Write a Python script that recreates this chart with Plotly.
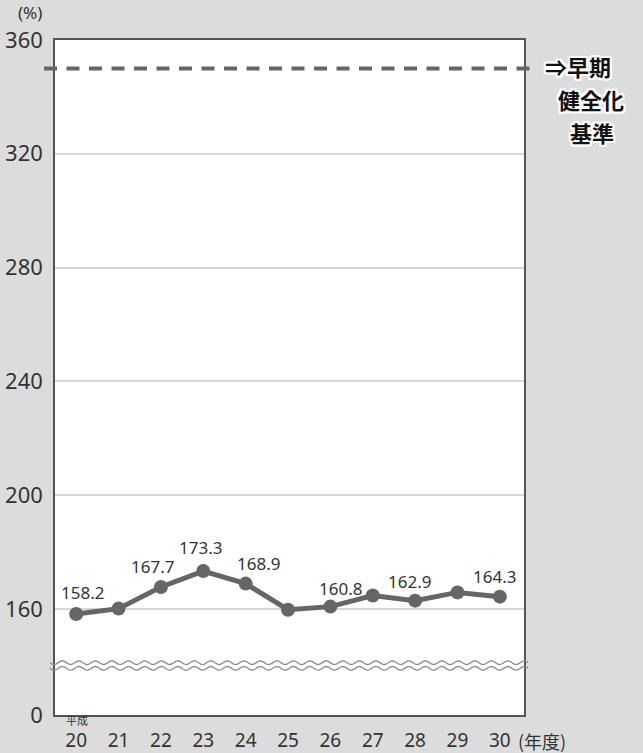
import numpy as np
import plotly.graph_objects as go

# ---- data ----
years = [20, 21, 22, 23, 24, 25, 26, 27, 28, 29, 30]
year_labels = ["20", "21", "22", "23", "24", "25", "26", "27", "28", "29", "30"]
ratio = [158.2, 160.1, 167.7, 173.3, 168.9, 159.7, 160.8, 164.7, 162.9, 165.8, 164.3]
labelled = [True, False, True, True, True, False, True, False, True, False, True]
threshold = 350
threshold_label = ["⇒早期", "健全化", "基準"]
ytick_vals = [122.7, 160, 200, 240, 280, 320, 360]
ytick_text = ["0", "160", "200", "240", "280", "320", "360"]

# ---- layout geometry (pixels) ----
W, H = 643, 753
L, R, T, B = 55, 524, 40, 715
PW, PH = R - L, B - T
Y0, Y1 = ytick_vals[0], ytick_vals[-1]

def px_x(p):
    return (p - L) / PW

def px_y(p):
    return (B - p) / PH

def val_y(v):
    return (v - Y0) / (Y1 - Y0)

label_dx = [6, 0, -8, -3, 13, 0, 10, 0, -6, 0, -5]
label_dy = [22, 0, 21, 24, 20, 0, 18, 0, 19, 0, 20]

FONT = "Noto Sans, Noto Sans CJK JP, sans-serif"
CJK = "Noto Sans CJK JP, sans-serif"
DARK = "#333333"
LINE = "#666666"

fig = go.Figure()
fig.add_trace(go.Scatter(
    x=years, y=ratio, mode="lines+markers",
    line=dict(color=LINE, width=5),
    marker=dict(color=LINE, size=14),
    hoverinfo="skip", showlegend=False, cliponaxis=False,
))

annotations = []
for x, v, show, dx, dy in zip(years, ratio, labelled, label_dx, label_dy):
    if show:
        annotations.append(dict(
            x=x, y=v, xref="x", yref="y", text=f"{v:.1f}", showarrow=False,
            xshift=dx, yshift=dy, yanchor="middle",
            font=dict(family=FONT, size=17, color=DARK)))

# (%) label
annotations.append(dict(x=px_x(30), y=px_y(13), xref="paper", yref="paper",
                        text="(%)", showarrow=False, xanchor="center", yanchor="middle",
                        font=dict(family=FONT, size=17, color=DARK)))
# 平成
annotations.append(dict(x=px_x(77), y=px_y(720), xref="paper", yref="paper",
                        text="平成", showarrow=False, xanchor="center", yanchor="middle",
                        font=dict(family=CJK, size=11, color=DARK)))
# (年度)
annotations.append(dict(x=px_x(542), y=px_y(741), xref="paper", yref="paper",
                        text="(年度)", showarrow=False, xanchor="center", yanchor="middle",
                        font=dict(family=CJK, size=18, color=DARK)))

# threshold label
shadow = ("2px 0 0 #fff, -2px 0 0 #fff, 0 2px 0 #fff, 0 -2px 0 #fff, "
          "2px 2px 0 #fff, -2px -2px 0 #fff, 2px -2px 0 #fff, -2px 2px 0 #fff")
for txt, cx, cy in zip(threshold_label, [578, 591, 592], [66, 99, 132]):
    annotations.append(dict(x=px_x(cx), y=px_y(cy), xref="paper", yref="paper",
                            text=txt, showarrow=False, xanchor="center", yanchor="middle",
                            align="center",
                            font=dict(family=CJK, size=22, color="#111111",
                                      weight="bold", shadow=shadow)))

shapes = []
# dashed threshold line
shapes.append(dict(type="line", xref="paper", yref="paper",
                   x0=px_x(44), x1=px_x(532), y0=val_y(threshold), y1=val_y(threshold),
                   line=dict(color=LINE, width=4, dash="13px,9.5px")))

# axis break wavy lines (decoration)
period = 16.5
amp = 1.8
xs = np.linspace(50, 528, 400)
for base in (662.7, 668.3):
    pts = [(px_x(x), px_y(base + amp * np.sin(2 * np.pi * (x - 50) / period))) for x in xs]
    path = "M " + " L ".join(f"{a:.5f},{b:.5f}" for a, b in pts)
    shapes.append(dict(type="path", xref="paper", yref="paper", path=path,
                       line=dict(color="#8a8a8a", width=1.3)))

fig.update_layout(
    width=W, height=H,
    margin=dict(l=L, r=W - R, t=T, b=H - B, pad=0),
    paper_bgcolor="#dcdcdd",
    plot_bgcolor="#ffffff",
    annotations=annotations,
    shapes=shapes,
    xaxis=dict(range=[19.5, 30.57], tickvals=years, ticktext=year_labels,
               showgrid=False, zeroline=False, showline=True, mirror=True,
               linecolor="#555555", linewidth=1.5, ticks="",
               ticklabelstandoff=7, automargin=False,
               tickfont=dict(family=FONT, size=19, color=DARK), fixedrange=True),
    yaxis=dict(range=[Y0, Y1], tickvals=ytick_vals, ticktext=ytick_text,
               showgrid=True, gridcolor="#d6d6d6", gridwidth=2, zeroline=False,
               showline=True, mirror=True, linecolor="#555555", linewidth=1.5,
               ticks="", ticklabelstandoff=6, automargin=False,
               tickfont=dict(family=FONT, size=22, color=DARK), fixedrange=True),
)

fig.write_html("out.html", config={"displayModeBar": False},
               post_script="document.body.style.margin='0';document.body.style.overflow='hidden';")
